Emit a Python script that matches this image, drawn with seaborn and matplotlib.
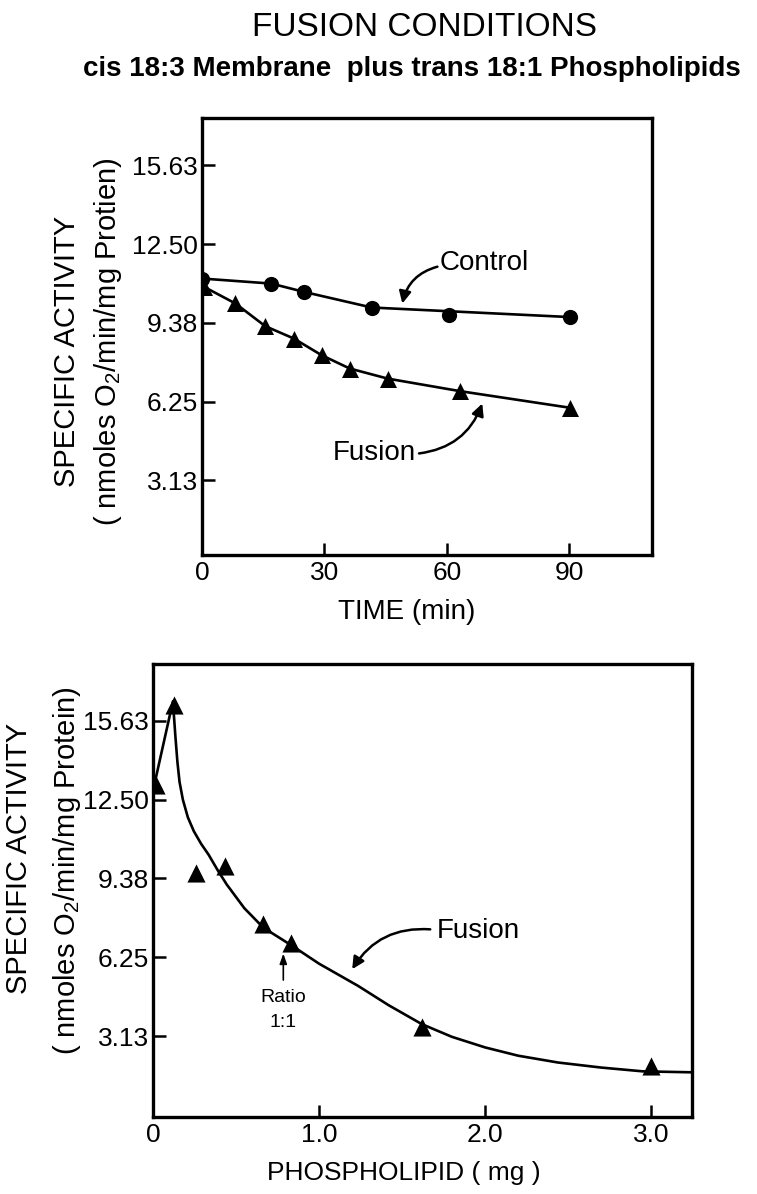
import matplotlib
matplotlib.use("Agg")
import matplotlib.pyplot as plt
import seaborn as sns
import pandas as pd
from matplotlib import font_manager as fm

# ---------------- data ----------------
time_control = [0, 17, 25, 41.6, 60.6, 90.3]
act_control = [11.13, 10.93, 10.60, 9.98, 9.68, 9.61]
control_line_t = [0, 17, 25, 41.6, 90.3]
control_line_y = [11.13, 10.93, 10.60, 9.98, 9.60]

time_fusion = [0.5, 8.2, 15.5, 22.5, 29.3, 36.2, 45.5, 63.3, 90.3]
act_fusion = [10.80, 10.14, 9.24, 8.75, 8.09, 7.56, 7.16, 6.66, 6.00]

pl_mg = [0.02, 0.125, 0.257, 0.433, 0.664, 0.829, 1.62, 3.0]
act_pl = [13.10, 16.27, 9.60, 9.87, 7.56, 6.83, 3.47, 1.95]

# hand-drawn fitted curve of the lower panel
curve_mg = [0.015, 0.12, 0.135, 0.147, 0.16, 0.18, 0.21, 0.246, 0.29, 0.334,
            0.39, 0.444, 0.55, 0.664, 0.84, 1.0, 1.235, 1.42, 1.62, 1.8,
            2.0, 2.2, 2.44, 2.7, 2.95, 3.26]
curve_act = [13.3, 16.4, 15.0, 14.0, 13.2, 12.5, 11.8, 11.25, 10.75, 10.33,
             9.70, 9.14, 8.20, 7.43, 6.70, 6.00, 5.12, 4.35, 3.60, 3.10,
             2.68, 2.35, 2.08, 1.88, 1.73, 1.69]

y_ticks = [3.13, 6.25, 9.38, 12.50, 15.63]
y_ticklabels = ["3.13", "6.25", "9.38", "12.50", "15.63"]
time_ticks = [0, 30, 60, 90]
time_ticklabels = ["0", "30", "60", "90"]
pl_ticks = [0, 1, 2, 3]
pl_ticklabels = ["0", "1.0", "2.0", "3.0"]

title = "FUSION CONDITIONS"
subtitle = "cis 18:3 Membrane  plus trans 18:1 Phospholipids"
ylab1 = "SPECIFIC ACTIVITY"
ylab2_top = r"( nmoles O$\mathregular{_2}$/min/mg Protien)"
ylab2_bot = r"( nmoles O$\mathregular{_2}$/min/mg Protein)"

# ---------------- style ----------------
sns.set_theme(style="white")
names = {f.name for f in fm.fontManager.ttflist}
narrow = "Liberation Sans Narrow" in names
FAM = "Liberation Sans Narrow" if narrow else "Liberation Sans"
K = 1.15 if narrow else 1.0
plt.rcParams["font.family"] = [FAM, "DejaVu Sans"]
plt.rcParams["mathtext.fontset"] = "custom"
plt.rcParams["mathtext.rm"] = FAM
plt.rcParams["text.color"] = "black"
plt.rcParams["axes.labelcolor"] = "black"
plt.rcParams["xtick.color"] = "black"
plt.rcParams["ytick.color"] = "black"

W, H = 757, 1194
fig = plt.figure(figsize=(W / 100, H / 100), dpi=100)


def fx(px):
    return px / W


def fy(py):
    return 1 - py / H


ax1 = fig.add_axes([fx(202), fy(555), (652 - 202) / W, (555 - 118) / H])
ax2 = fig.add_axes([fx(153), fy(1117), (692 - 153) / W, (1117 - 664) / H])

LW = 1.9
# ---- top panel ----
sns.lineplot(x=control_line_t, y=control_line_y, ax=ax1, color="black",
             lw=LW, estimator=None, sort=False)
sns.scatterplot(x=time_control, y=act_control, ax=ax1, color="black",
                marker="o", s=120, edgecolor="black", linewidth=0, zorder=3)
sns.lineplot(x=time_fusion, y=act_fusion, ax=ax1, color="black",
             lw=LW, estimator=None, sort=False)
sns.scatterplot(x=time_fusion, y=act_fusion, ax=ax1, color="black",
                marker="^", s=150, edgecolor="black", linewidth=0, zorder=3)
ax1.set_xlim(0, 110.3)
ax1.set_ylim(0.16, 17.5)
ax1.set_xticks(time_ticks)
ax1.set_xticklabels(time_ticklabels)

# ---- bottom panel ----
sns.lineplot(x=curve_mg, y=curve_act, ax=ax2, color="black", lw=LW,
             estimator=None, sort=False)
sns.scatterplot(x=pl_mg, y=act_pl, ax=ax2, color="black", marker="^",
                s=170, edgecolor="black", linewidth=0, zorder=3)
ax2.set_xlim(0, 3.247)
ax2.set_ylim(-0.08, 17.88)
ax2.set_xticks(pl_ticks)
ax2.set_xticklabels(pl_ticklabels)

TICK_FS = 19 * K
for ax in (ax1, ax2):
    ax.set_yticks(y_ticks)
    ax.set_yticklabels(y_ticklabels)
    ax.set_xlabel("")
    ax.set_ylabel("")
    for sp in ax.spines.values():
        sp.set_visible(True)
        sp.set_linewidth(2.4)
        sp.set_color("black")
    ax.tick_params(axis="both", direction="in", length=9, width=1.8,
                   colors="black", labelsize=TICK_FS)
    ax.tick_params(axis="y", pad=3, left=True, right=False)
    ax.tick_params(axis="x", pad=4, bottom=True, top=False)
    ax.set_facecolor("white")
    ax.grid(False)

# ---- annotations ----
ANN_FS = 20 * K
arrow_kw = dict(arrowstyle="-|>,head_length=0.6,head_width=0.3", color="black",
                lw=1.8, shrinkA=0, shrinkB=0)
ax1.text(58.3, 11.75, "Control", fontsize=ANN_FS, ha="left", va="center")
ax1.annotate("", xy=(49.1, 10.14), xytext=(57.7, 11.6),
             arrowprops=dict(connectionstyle="arc3,rad=0.3", **arrow_kw))
ax1.text(52.5, 4.19, "Fusion", fontsize=ANN_FS, ha="right", va="center")
ax1.annotate("", xy=(68.7, 6.17), xytext=(53.2, 4.19),
             arrowprops=dict(connectionstyle="arc3,rad=0.3", **arrow_kw))

ax2.text(1.71, 7.3, "Fusion", fontsize=ANN_FS, ha="left", va="center")
ax2.annotate("", xy=(1.2, 5.78), xytext=(1.67, 7.36),
             arrowprops=dict(connectionstyle="arc3,rad=0.3", **arrow_kw))
ax2.annotate("", xy=(0.785, 6.4), xytext=(0.785, 5.35),
             arrowprops=dict(arrowstyle="-|>,head_length=0.5,head_width=0.18",
                             color="black", lw=1.2, shrinkA=0, shrinkB=0))
ax2.text(0.785, 4.66, "Ratio", fontsize=14 * K, ha="center", va="center")
ax2.text(0.785, 3.65, "1:1", fontsize=14 * K, ha="center", va="center")

# ---- titles & axis labels ----
fig.text(fx(425), fy(28), title, fontsize=24 * K, ha="center", va="center")
fig.text(fx(412), fy(69), subtitle, fontsize=20, fontweight="bold",
         ha="center", va="center", family=["Liberation Sans", "DejaVu Sans"])

LAB_FS = 21 * K
fig.text(fx(67), fy(351), ylab1, fontsize=LAB_FS, rotation=90,
         ha="center", va="center")
fig.text(fx(108), fy(342), ylab2_top, fontsize=LAB_FS, rotation=90,
         ha="center", va="center")
fig.text(fx(19), fy(858), ylab1, fontsize=LAB_FS, rotation=90,
         ha="center", va="center")
fig.text(fx(67), fy(871), ylab2_bot, fontsize=LAB_FS, rotation=90,
         ha="center", va="center")

fig.text(fx(407), fy(612), "TIME (min)", fontsize=20 * K, ha="center",
         va="center")
fig.text(fx(404), fy(1173), "PHOSPHOLIPID ( mg )", fontsize=19 * K,
         ha="center", va="center")

fig.savefig("out.png", dpi=100, facecolor="white")
